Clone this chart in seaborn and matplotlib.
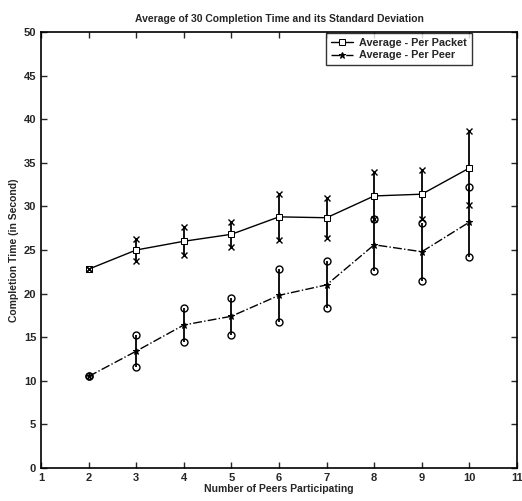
import numpy as np
import pandas as pd
import matplotlib
matplotlib.use("Agg")
import matplotlib.pyplot as plt
import seaborn as sns

peers = [2, 3, 4, 5, 6, 7, 8, 9, 10]
packet_mean = [22.8, 25.0, 26.0, 26.8, 28.8, 28.7, 31.2, 31.4, 34.4]
packet_std = [0.0, 1.3, 1.6, 1.4, 2.6, 2.3, 2.7, 2.8, 4.2]
peer_mean = [10.5, 13.4, 16.4, 17.4, 19.8, 21.0, 25.6, 24.8, 28.2]
peer_std = [0.0, 1.8, 2.0, 2.1, 3.0, 2.7, 3.0, 3.3, 4.0]
labels = ["Average - Per Packet", "Average - Per Peer"]
xticks = list(range(1, 12))
yticks = list(range(0, 51, 5))

sns.set_theme(style="ticks")
plt.rcParams['font.family'] = ['Liberation Sans', 'DejaVu Sans']

df = pd.DataFrame({
    "peers": peers * 2,
    "mean": packet_mean + peer_mean,
    "std": packet_std + peer_std,
    "series": [labels[0]] * len(peers) + [labels[1]] * len(peers),
})

fig = plt.figure(figsize=(5.22, 5.01), dpi=100)
ax = fig.add_axes([41/522, 1-468/501, (517-41)/522, (468-32)/501])

styles = {
    labels[0]: dict(ls="-", marker="s", cap="x", ms=5),
    labels[1]: dict(ls="-.", marker="*", cap="o", ms=5),
}
for name, g in df.groupby("series", sort=False):
    st = styles[name]
    x = g["peers"].to_numpy()
    m = g["mean"].to_numpy()
    s = g["std"].to_numpy()
    ax.vlines(x, m - s, m + s, color="black", lw=1.3, zorder=2)
    cms = 5 if st["cap"] == "o" else 4
    ax.plot(x, m + s, ls="none", marker=st["cap"], color="black",
            mfc="none", ms=cms, mew=1.0, zorder=5)
    ax.plot(x, m - s, ls="none", marker=st["cap"], color="black",
            mfc="none", ms=cms, mew=1.0, zorder=5)
    sns.lineplot(data=g, x="peers", y="mean", ax=ax, color="black", lw=1.0,
                 linestyle=st["ls"], marker=st["marker"], markersize=st["ms"],
                 markerfacecolor="white" if st["marker"] == "s" else "black",
                 markeredgecolor="black", label=name, zorder=4)

ax.set_xlim(1, 11)
ax.set_ylim(0, 50)
ax.set_xticks(xticks)
ax.set_yticks(yticks)
ax.tick_params(direction="in", top=True, right=True, labelsize=8, length=4, width=1.0)
for lbl in ax.get_xticklabels() + ax.get_yticklabels():
    lbl.set_fontweight("bold")
for sp in ax.spines.values():
    sp.set_visible(True)
    sp.set_color("black")
    sp.set_linewidth(1.2)

ax.set_xlabel("Number of Peers Participating", fontsize=7.5, fontweight="bold", labelpad=1)
ax.set_ylabel("Completion Time (in Second)", fontsize=7.5, fontweight="bold", labelpad=3)
ax.set_title("Average of 30 Completion Time and its Standard Deviation", fontsize=7.5,
             fontweight="bold", pad=7)

leg = ax.legend(loc="upper right", fontsize=7.8, frameon=True, fancybox=False,
                edgecolor="black", borderpad=0.45, handlelength=2.0, handletextpad=0.6,
                labelspacing=0.2, borderaxespad=0, bbox_to_anchor=(0.905, 0.997))
leg.get_frame().set_linewidth(1.0)
for t in leg.get_texts():
    t.set_fontweight("bold")

fig.savefig("out.png", dpi=100)
